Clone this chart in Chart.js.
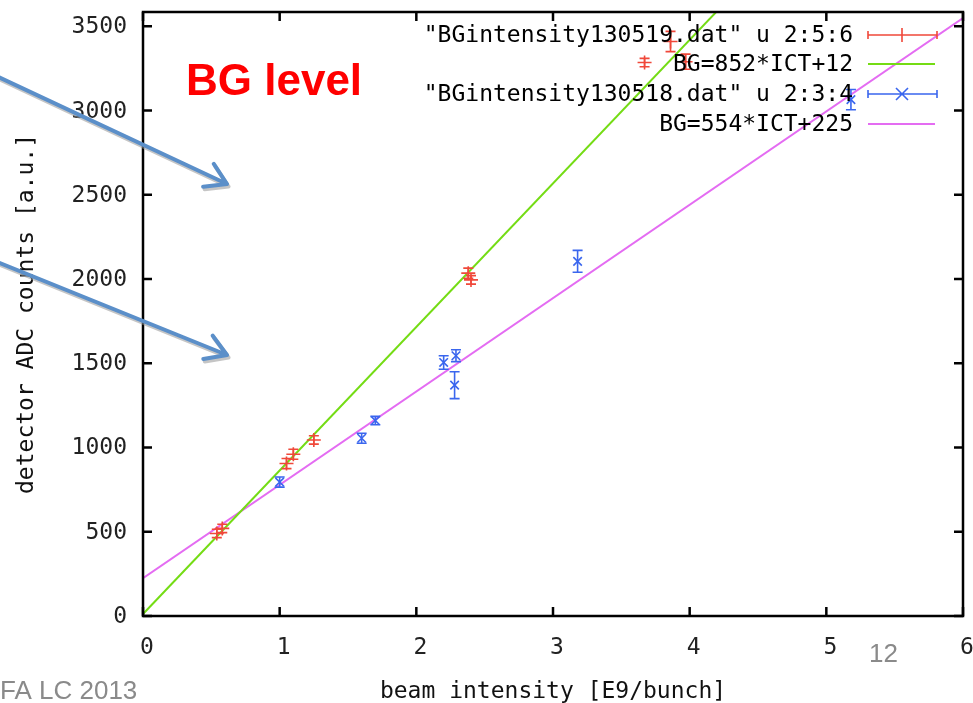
<!DOCTYPE html>
<html><head><meta charset="utf-8">
<script src="https://cdn.jsdelivr.net/npm/chart.js@4"></script>
<style>html,body{margin:0;padding:0;background:#fff;overflow:hidden}#wrap{width:973px;height:703px;position:relative}</style>
</head><body><div id="wrap"><canvas id="c" width="973" height="703"></canvas></div>
<script>
// ---- data ----
const redX   = [0.54, 0.58, 1.05, 1.10, 1.25, 2.38, 2.40, 3.67, 3.86, 3.97];
const redY   = [490,  520,  905,  960,  1045, 2035, 1995, 3285, 3410, 3290];
const redErr = [25,   25,   30,   30,   25,   30,   25,   25,   60,   45];

const blueX   = [1.00, 1.60, 1.70, 2.20, 2.29, 2.28, 3.18, 5.18];
const blueY   = [795,  1055, 1160, 1505, 1545, 1370, 2105, 3065];
const blueErr = [30,   30,   25,   40,   35,   80,   65,   60];

const greenLineX   = [0, 4.2];
const greenLineY   = [12, 3590];
const magentaLineX = [0, 6];
const magentaLineY = [225, 3549];

const xTicks = [0, 1, 2, 3, 4, 5, 6];
const yTicks = [0, 500, 1000, 1500, 2000, 2500, 3000, 3500];
const legendLabels = ['"BGintensity130519.dat" u 2:5:6', 'BG=852*ICT+12', '"BGintensity130518.dat" u 2:3:4', 'BG=554*ICT+225'];
const xTitle = 'beam intensity [E9/bunch]';
const yTitle = 'detector ADC counts [a.u.]';

const RED = '#f0483a', BLUE = '#3a66ee', GREEN = '#74dc14', MAGENTA = '#e46cf2';
const MONO = '"DejaVu Sans Mono", "Liberation Mono", monospace';
const AREA = {left: 143, top: 12, right: 963, bottom: 616};

const toPts = (xs, ys) => xs.map((v, i) => ({x: v, y: ys[i]}));

const errorBars = {
  id: 'errorBars',
  afterDatasetsDraw(chart) {
    const {ctx, scales: {x, y}} = chart;
    [[redX, redY, redErr, RED], [blueX, blueY, blueErr, BLUE]].forEach(([xs, ys, es, col]) => {
      ctx.save();
      ctx.strokeStyle = col; ctx.lineWidth = 1.6;
      xs.forEach((xv, i) => {
        const px = x.getPixelForValue(xv);
        const t = y.getPixelForValue(ys[i] + es[i]);
        const b = y.getPixelForValue(ys[i] - es[i]);
        ctx.beginPath();
        ctx.moveTo(px, t); ctx.lineTo(px, b);
        ctx.moveTo(px - 5, t); ctx.lineTo(px + 5, t);
        ctx.moveTo(px - 5, b); ctx.lineTo(px + 5, b);
        ctx.stroke();
      });
      ctx.restore();
    });
  }
};

const frame = {
  id: 'frame',
  afterDraw(chart) {
    const {ctx, chartArea: a, scales: {x, y}} = chart;
    ctx.save();
    ctx.strokeStyle = '#000'; ctx.lineWidth = 2.5;
    ctx.strokeRect(a.left, a.top, a.right - a.left, a.bottom - a.top);
    ctx.beginPath();
    const L = 9;
    yTicks.forEach(v => {
      const py = y.getPixelForValue(v);
      ctx.moveTo(a.left, py); ctx.lineTo(a.left + L, py);
      ctx.moveTo(a.right, py); ctx.lineTo(a.right - L, py);
    });
    xTicks.forEach(v => {
      const px = x.getPixelForValue(v);
      ctx.moveTo(px, a.bottom); ctx.lineTo(px, a.bottom - L);
      ctx.moveTo(px, a.top); ctx.lineTo(px, a.top + L);
    });
    ctx.stroke();

    // tick labels, placed from the scales
    ctx.font = '23px ' + MONO;
    ctx.fillStyle = '#222';
    ctx.textAlign = 'right'; ctx.textBaseline = 'middle';
    yTicks.forEach(v => ctx.fillText(String(v), a.left - 16, y.getPixelForValue(v) + 1));
    ctx.textAlign = 'center';
    xTicks.forEach(v => ctx.fillText(String(v), x.getPixelForValue(v) + 4, a.bottom + 32));

    // legend (gnuplot style, inside top right)
    ctx.fillStyle = '#000'; ctx.textAlign = 'right'; ctx.textBaseline = 'middle';
    const rows = [35, 64, 94, 124];
    legendLabels.forEach((t, i) => ctx.fillText(t, 853, rows[i] + 1));
    const x0 = 868, x1 = 937, xm = 902;
    ctx.lineWidth = 1.6;
    ctx.strokeStyle = RED; ctx.beginPath();
    ctx.moveTo(x0, rows[0]); ctx.lineTo(x1, rows[0]);
    ctx.moveTo(x0, rows[0] - 4); ctx.lineTo(x0, rows[0] + 4);
    ctx.moveTo(x1, rows[0] - 4); ctx.lineTo(x1, rows[0] + 4);
    ctx.moveTo(xm, rows[0] - 7); ctx.lineTo(xm, rows[0] + 7);
    ctx.stroke();
    ctx.strokeStyle = GREEN; ctx.lineWidth = 2; ctx.beginPath();
    ctx.moveTo(x0, rows[1]); ctx.lineTo(x1 - 2, rows[1]); ctx.stroke();
    ctx.strokeStyle = BLUE; ctx.lineWidth = 1.6; ctx.beginPath();
    ctx.moveTo(x0, rows[2]); ctx.lineTo(x1, rows[2]);
    ctx.moveTo(x0, rows[2] - 4); ctx.lineTo(x0, rows[2] + 4);
    ctx.moveTo(x1, rows[2] - 4); ctx.lineTo(x1, rows[2] + 4);
    ctx.moveTo(xm - 6, rows[2] - 6); ctx.lineTo(xm + 6, rows[2] + 6);
    ctx.moveTo(xm - 6, rows[2] + 6); ctx.lineTo(xm + 6, rows[2] - 6);
    ctx.stroke();
    ctx.strokeStyle = MAGENTA; ctx.lineWidth = 2; ctx.beginPath();
    ctx.moveTo(x0, rows[3]); ctx.lineTo(x1 - 2, rows[3]); ctx.stroke();

    // slide annotations
    ctx.textAlign = 'left'; ctx.textBaseline = 'alphabetic';
    ctx.fillStyle = '#ff0000';
    ctx.font = 'bold 44px "Liberation Sans", Arial, sans-serif';
    ctx.fillText('BG level', 186, 95);
    ctx.fillStyle = '#8a8a8a';
    ctx.font = '26px "Liberation Sans", Arial, sans-serif';
    ctx.fillText('12', 869, 662);
    ctx.fillText('FA LC 2013', 0, 699);

    // arrows
    const arrow = (sx, sy, ex, ey, col, w) => {
      const ang = Math.atan2(ey - sy, ex - sx), h = 24, spread = 0.55;
      ctx.strokeStyle = col; ctx.lineWidth = w; ctx.lineCap = 'round'; ctx.lineJoin = 'round';
      ctx.beginPath();
      ctx.moveTo(sx, sy); ctx.lineTo(ex, ey);
      ctx.moveTo(ex - h * Math.cos(ang - spread), ey - h * Math.sin(ang - spread));
      ctx.lineTo(ex, ey);
      ctx.lineTo(ex - h * Math.cos(ang + spread), ey - h * Math.sin(ang + spread));
      ctx.stroke();
    };
    [[-10, 73, 227, 184], [-10, 259, 227, 355]].forEach(([sx, sy, ex, ey]) => {
      arrow(sx + 1.5, sy + 2.5, ex + 1.5, ey + 2.5, 'rgba(150,150,150,0.55)', 4);
      arrow(sx, sy, ex, ey, '#5b8fc9', 4);
    });
    ctx.restore();
  }
};

const chart = new Chart(document.getElementById('c'), {
  type: 'scatter',
  data: {
    datasets: [
      {label: legendLabels[0], data: toPts(redX, redY), pointStyle: 'cross', pointRadius: 7,
       borderColor: RED, backgroundColor: RED, borderWidth: 1.6, showLine: false},
      {label: legendLabels[1], data: toPts(greenLineX, greenLineY), showLine: true, pointRadius: 0,
       borderColor: GREEN, borderWidth: 2},
      {label: legendLabels[2], data: toPts(blueX, blueY), pointStyle: 'crossRot', pointRadius: 6,
       borderColor: BLUE, backgroundColor: BLUE, borderWidth: 1.6, showLine: false},
      {label: legendLabels[3], data: toPts(magentaLineX, magentaLineY), showLine: true, pointRadius: 0,
       borderColor: MAGENTA, borderWidth: 2}
    ]
  },
  options: {
    responsive: false, animation: false, devicePixelRatio: 1,
    layout: {padding: {top: AREA.top, right: 973 - AREA.right, left: 0, bottom: 0}, autoPadding: false},
    plugins: {legend: {display: false}, tooltip: {enabled: false}},
    scales: {
      x: {
        type: 'linear', min: 0, max: 6,
        afterBuildTicks: s => { s.ticks = xTicks.map(v => ({value: v})); },
        afterFit: s => { s.height = 703 - AREA.bottom; },
        grid: {display: false}, border: {display: false},
        ticks: {display: false},
        title: {display: true, text: xTitle, font: {family: MONO, size: 23}, color: '#111', padding: {top: 0, bottom: -3}}
      },
      y: {
        type: 'linear', min: 0, max: 3585,
        afterBuildTicks: s => { s.ticks = yTicks.map(v => ({value: v})); },
        afterFit: s => { s.width = AREA.left; },
        grid: {display: false}, border: {display: false},
        ticks: {display: false},
        title: {display: true, text: yTitle, font: {family: MONO, size: 23}, color: '#111', padding: {top: 13, bottom: 0}}
      }
    }
  },
  plugins: [errorBars, frame]
});
</script>
</body></html>
